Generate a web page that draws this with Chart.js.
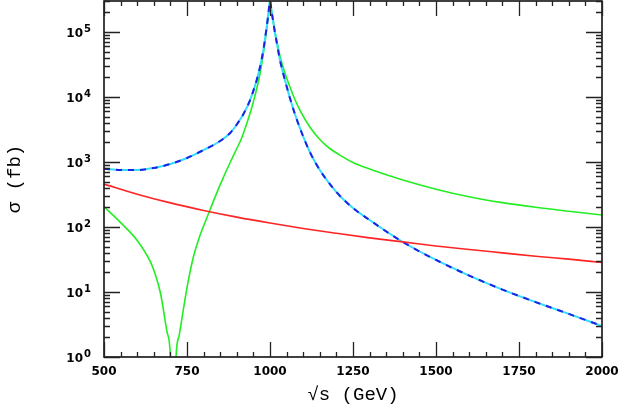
<!DOCTYPE html>
<html>
<head>
<meta charset="utf-8">
<script src="https://cdn.jsdelivr.net/npm/chart.js@4/dist/chart.umd.min.js"></script>
<style>
  html, body { margin: 0; padding: 0; background: #fff; }
  #wrap { width: 620px; height: 409px; }
</style>
</head>
<body>
<div id="wrap"><canvas id="sigmaChart" width="620" height="409"></canvas></div>
<script>
// sqrt(s) in GeV, sigma in fb
const redX = [500, 600, 700, 800, 900, 1000, 1100, 1200, 1300, 1400, 1500, 1600, 1700, 1800, 1900, 2000];
const redY = [458, 320, 235, 180, 142, 115, 95, 80, 68, 59, 51, 45, 40, 35.5, 32, 28.5];

const greenX = [500, 550, 600, 640, 655, 670, 690, 700, 709, 717, 726, 734, 744, 754, 770, 789, 800, 819, 840,
                859, 880, 900, 914, 930, 950, 970, 985, 995, 1000, 1005, 1010, 1015, 1020, 1030, 1045, 1060, 1075,
                1090, 1120, 1150, 1180, 1210, 1250, 1300, 1400, 1500, 1600, 1700, 1800, 1900, 2000];
const greenY = [205, 117, 62, 29, 18.3, 9.66, 2.42, 1.02, 0.01, 1.0, 2.1, 3.71, 7.7, 15.0, 35.8, 74.0, 103.6, 182.6, 338,
                571, 982, 1614, 2300, 3900, 8470, 23000, 70200, 182700, 300000, 203000, 142600, 100000, 75300, 42700, 23400, 14250, 9160,
                6310, 3450, 2220, 1614, 1282, 982, 780, 528, 382, 292, 237, 201, 174.5, 153];

const blueX = [500, 550, 600, 650, 700, 750, 800, 850, 880, 900, 920, 940, 960, 970, 980, 990, 995, 1000,
               1005, 1010, 1015, 1020, 1030, 1045, 1060, 1075, 1090, 1120, 1150, 1200, 1250, 1300, 1400, 1500,
               1600, 1700, 1800, 1900, 2000];
const blueY = [789, 753, 753, 809, 931, 1153, 1531, 2104, 2793, 3776, 5470, 8990, 18270, 28960, 52850, 119400, 189200, 300000,
               203000, 142600, 96600, 70200, 37100, 18270, 9650, 5470, 3337, 1426, 753, 345, 196, 128, 58.8, 31.1,
               17.9, 10.9, 7.0, 4.6, 3.0];

const xTickValues = [500, 750, 1000, 1250, 1500, 1750, 2000];
const xTickLabels = ['500', '750', '1000', '1250', '1500', '1750', '2000'];
const yTickPowers = [0, 1, 2, 3, 4, 5];

function pts(xs, ys) {
    return xs.map((v, i) => ({x: v, y: ys[i]}));
}

const frame = {
    id: 'frame',
    afterDatasetsDraw(chart) {
        const ctx = chart.ctx;
        const a = chart.chartArea;
        const sx = chart.scales.x, sy = chart.scales.y;
        ctx.save();
        ctx.strokeStyle = '#111';
        ctx.lineWidth = 1.6;
        ctx.strokeRect(a.left, a.top, a.right - a.left, a.bottom - a.top);

        // inward ticks
        ctx.lineWidth = 1.3;
        ctx.strokeStyle = '#222';
        ctx.beginPath();
        for (let v = sx.min; v <= sx.max; v += 50) {
            const px = Math.round(sx.getPixelForValue(v)) + 0.5;
            const len = (v % 250 === 0) ? 15 : 5;
            ctx.moveTo(px, a.bottom); ctx.lineTo(px, a.bottom - len);
            ctx.moveTo(px, a.top); ctx.lineTo(px, a.top + len);
        }
        for (let d = 0; d <= 5; d++) {
            for (let k = 1; k <= 9; k++) {
                const v = k * Math.pow(10, d);
                if (v > sy.max) break;
                const py = Math.round(sy.getPixelForValue(v)) + 0.5;
                const len = (k === 1) ? 16 : 6;
                ctx.moveTo(a.left, py); ctx.lineTo(a.left + len, py);
                ctx.moveTo(a.right, py); ctx.lineTo(a.right - len, py);
            }
        }
        ctx.stroke();

        // tick labels
        ctx.fillStyle = '#000';
        ctx.font = 'bold 12px "DejaVu Sans"';
        ctx.textAlign = 'center';
        ctx.textBaseline = 'alphabetic';
        xTickValues.forEach((v, i) => {
            ctx.fillText(xTickLabels[i], sx.getPixelForValue(v), a.bottom + 18);
        });
        yTickPowers.forEach(p => {
            const py = sy.getPixelForValue(Math.pow(10, p));
            ctx.font = 'bold 12px "DejaVu Sans"';
            ctx.textAlign = 'right';
            ctx.fillText('10', a.left - 21, py + 5);
            ctx.font = 'bold 10px "DejaVu Sans"';
            ctx.textAlign = 'left';
            ctx.fillText(String(p), a.left - 20, py);
        });

        // axis titles
        ctx.font = '19px "Liberation Mono"';
        ctx.textAlign = 'center';
        ctx.textBaseline = 'middle';
        ctx.fillText('\u221As (GeV)', (a.left + a.right) / 2, a.bottom + 38);
        ctx.translate(15, (a.top + a.bottom) / 2);
        ctx.rotate(-Math.PI / 2);
        ctx.fillText('\u03C3 (fb)', 0, 0);
        ctx.restore();
    }
};

// order: lower number is drawn last (on top)
const ctxEl = document.getElementById('sigmaChart');
const sigmaChart = new Chart(ctxEl, {
    type: 'line',
    data: {
        datasets: [
            {
                label: 'red',
                data: pts(redX, redY),
                borderColor: '#ff2424',
                borderWidth: 1.6,
                pointRadius: 0,
                fill: false,
                order: 0,
                cubicInterpolationMode: 'monotone'
            },
            {
                label: 'blue',
                data: pts(blueX, blueY),
                borderColor: '#2020e6',
                borderWidth: 2,
                borderDash: [6, 6],
                pointRadius: 0,
                fill: false,
                order: 1,
                cubicInterpolationMode: 'monotone'
            },
            {
                label: 'cyan',
                data: pts(blueX, blueY),
                borderColor: '#33ddff',
                borderWidth: 2,
                pointRadius: 0,
                fill: false,
                order: 2,
                cubicInterpolationMode: 'monotone'
            },
            {
                label: 'green',
                data: pts(greenX, greenY),
                borderColor: '#22ee22',
                borderWidth: 1.6,
                pointRadius: 0,
                fill: false,
                order: 3,
                cubicInterpolationMode: 'monotone'
            }
        ]
    },
    options: {
        responsive: false,
        animation: false,
        layout: { padding: { left: 104, right: 18, top: 1, bottom: 52 } },
        plugins: { legend: { display: false }, tooltip: { enabled: false } },
        scales: {
            x: { type: 'linear', min: 500, max: 2000, display: false },
            y: { type: 'logarithmic', min: 1, max: 300000, display: false }
        }
    },
    plugins: [frame]
});
</script>
</body>
</html>
